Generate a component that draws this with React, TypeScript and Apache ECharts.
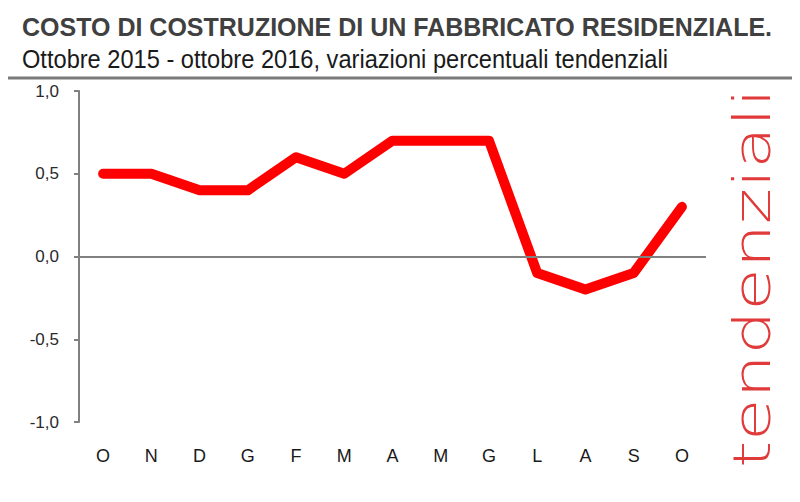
import * as echarts from 'echarts';
import React, { useEffect, useRef } from 'react';

const months = ['O', 'N', 'D', 'G', 'F', 'M', 'A', 'M', 'G', 'L', 'A', 'S', 'O'];
const tendenziali = [0.5, 0.5, 0.4, 0.4, 0.6, 0.5, 0.7, 0.7, 0.7, -0.1, -0.2, -0.1, 0.3];

const titleText = 'COSTO DI COSTRUZIONE DI UN FABBRICATO RESIDENZIALE.';
const subtitleText = 'Ottobre 2015 - ottobre 2016, variazioni percentuali tendenziali';
const sideLabel = 'tendenziali';

const App: React.FC = () => {
  const chartRef = useRef<HTMLDivElement>(null);

  useEffect(() => {
    if (!chartRef.current) return;
    const chart = echarts.init(chartRef.current, undefined, { renderer: 'svg' });

    chart.setOption({
      animation: false,
      backgroundColor: '#ffffff',
      textStyle: { fontFamily: 'Liberation Sans, Arial, sans-serif' },
      grid: { left: 79, right: 94, top: 91, bottom: 80, containLabel: false },
      xAxis: {
        type: 'category',
        data: months,
        boundaryGap: true,
        position: 'bottom',
        axisLine: { show: false, onZero: false },
        axisTick: { show: false },
        axisLabel: { color: '#1a1a1a', fontSize: 18, margin: 25 },
      },
      yAxis: {
        type: 'value',
        min: -1,
        max: 1,
        interval: 0.5,
        axisLine: { show: true, lineStyle: { color: '#808080', width: 2 } },
        axisTick: { show: true, length: 5, lineStyle: { color: '#808080', width: 2 } },
        splitLine: { show: false },
        axisLabel: {
          color: '#2a2a2a',
          fontSize: 17,
          margin: 20,
          formatter: (v: number) => v.toFixed(1).replace('.', ','),
        },
      },
      series: [
        {
          type: 'line',
          data: tendenziali,
          showSymbol: false,
          symbol: 'none',
          lineStyle: { color: '#ff0000', width: 10, cap: 'round', join: 'round' },
          markLine: {
            silent: true,
            symbol: 'none',
            label: { show: false },
            lineStyle: { color: '#808080', width: 2, type: 'solid' },
            data: [{ yAxis: 0 }],
          },
          z: 3,
        },
      ],
      graphic: [
        {
          type: 'text',
          left: 22,
          top: 14,
          style: {
            text: titleText,
            fill: '#404040',
            font: 'bold 25px "Liberation Sans", Arial, sans-serif',
          },
        },
        {
          type: 'text',
          x: 22,
          y: 47,
          scaleX: 0.945,
          style: {
            text: subtitleText,
            fill: '#1a1a1a',
            font: '25px "Liberation Sans", Arial, sans-serif',
          },
        },
        {
          type: 'line',
          shape: { x1: 8, y1: 78, x2: 800, y2: 78 },
          style: { stroke: '#7a7a7a', lineWidth: 3 },
        },
        {
          type: 'text',
          x: 752,
          y: 278,
          rotation: Math.PI / 2,
          scaleX: 1.33,
          style: {
            text: sideLabel,
            fill: '#e03a3a',
            align: 'center',
            verticalAlign: 'middle',
            font: '200 52px "DejaVu Sans", sans-serif',
          },
        },
      ],
    });

    return () => {
      chart.dispose();
    };
  }, []);

  return <div ref={chartRef} style={{ width: 800, height: 502, margin: -8 }} />;
};

export default App;
